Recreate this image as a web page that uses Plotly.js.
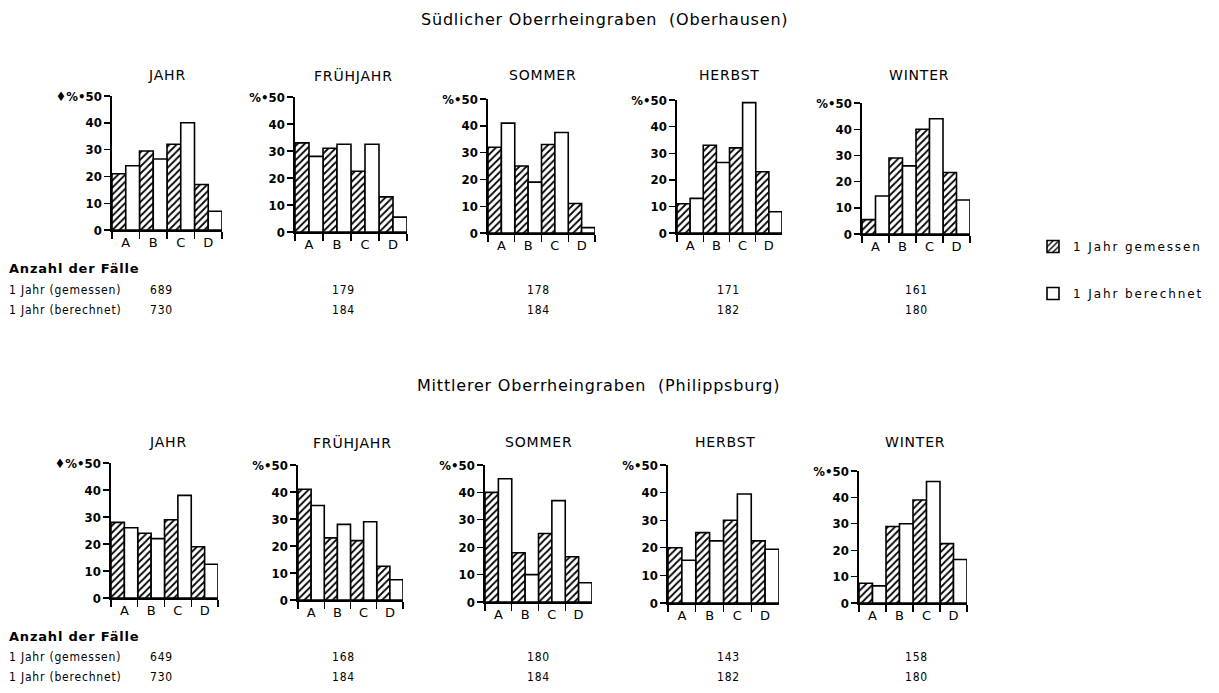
<!DOCTYPE html>
<html><head><meta charset="utf-8">
<script src="https://cdn.plot.ly/plotly-3.0.1.min.js"></script>
<style>
html,body{margin:0;padding:0;background:#fff}
.legendtext{letter-spacing:1.9px}
.annotation-text{letter-spacing:0.8px}
</style>
</head><body><div id="chart" style="width:1219px;height:693px"></div>
<script>
// ---- data ----
const categories = ['A','B','C','D'];
const seasons = ['JAHR','FRÜHJAHR','SOMMER','HERBST','WINTER'];
const seriesNames = ['1 Jahr gemessen','1 Jahr berechnet'];
const regionTitles = ['Südlicher Oberrheingraben  (Oberhausen)','Mittlerer Oberrheingraben  (Philippsburg)'];
const oberhausenGemessen  = [[21,29.5,32,17],[33,31,22.5,13],[32,25,33,11],[11,33,32,23],[5.5,29,40,23.5]];
const oberhausenBerechnet = [[24,26.5,40,7],[28,32.5,32.5,5.5],[41,19,37.5,2],[13,26.5,49,8],[14.5,26,44,13]];
const philippsburgGemessen  = [[28,24,29,19],[41,23,22,12.5],[40,18,25,16.5],[20,25.5,30,22.5],[7.5,29,39,22.5]];
const philippsburgBerechnet = [[26,22,38,12.5],[35,28,29,7.5],[45,10,37,7],[15.5,22.5,39.5,19.5],[6.5,30,46,16.5]];
const faelleOberhausenGemessen  = [689,179,178,171,161];
const faelleOberhausenBerechnet = [730,184,184,182,180];
const faellePhilippsburgGemessen  = [649,168,180,143,158];
const faellePhilippsburgBerechnet = [730,184,184,182,180];
const tableLabels = ['Anzahl der Fälle','1 Jahr (gemessen)','1 Jahr (berechnet)'];
const yTickVals = [0,10,20,30,40,50];
const yTickText = ['0','10','20','30','40','%•50'];
const yTickTextFirst = ['0','10','20','30','40','♦%•50'];

// ---- layout geometry (pixels) ----
const W = 1219, H = 693;
const FONT = 'DejaVu Sans, sans-serif';
const FONT_C = 'DejaVu Sans Condensed, DejaVu Sans, sans-serif';
const boxes = [
  [[112,222,96,230],[295,407,97,232],[488,595,99,233],[677,782,100,233],[862,970,103,234]],
  [[111,218,463,598],[298,403,465,600],[485,592,465,602],[668,779,465,603],[859,967,471,603]]
];
const titleX = [[167,354,542,729,919],[168,352,538,725,915]];
const titleY = [75,442];
const regionX = [604,598];
const regionY = [20,385];
const numX = [161,343,538,728,916];
const tableY = [[268,290,310],[636,657,677]];

const gem = [oberhausenGemessen, philippsburgGemessen];
const ber = [oberhausenBerechnet, philippsburgBerechnet];
const fGem = [faelleOberhausenGemessen, faellePhilippsburgGemessen];
const fBer = [faelleOberhausenBerechnet, faellePhilippsburgBerechnet];

const px = x => x / W;
const py = y => 1 - y / H;

const traces = [];
const layout = {
  width: W, height: H,
  margin: {l:0,r:0,t:0,b:0},
  paper_bgcolor: '#fff', plot_bgcolor: '#fff',
  barmode: 'group', bargap: 0, bargroupgap: 0,
  font: {family: FONT, color: '#000', size: 12},
  showlegend: true,
  legend: {x: px(1033), y: py(232), xanchor: 'left', yanchor: 'top',
           traceorder: 'grouped', tracegroupgap: 28,
           font: {family: FONT, size: 12, color: '#000'}, bgcolor: 'rgba(0,0,0,0)'},
  annotations: []
};

let k = 0;
for (let r = 0; r < 2; r++) {
  layout.annotations.push({xref:'paper', yref:'paper', x: px(regionX[r]), y: py(regionY[r]),
    text: regionTitles[r], showarrow:false, xanchor:'center', yanchor:'middle',
    font:{family:FONT, size:16, color:'#000'}});
  for (let s = 0; s < 5; s++) {
    k++;
    const xa = k === 1 ? 'x' : 'x' + k;
    const ya = k === 1 ? 'y' : 'y' + k;
    const b = boxes[r][s];
    layout[k === 1 ? 'xaxis' : 'xaxis' + k] = {
      domain: [px(b[0]), px(b[1])], anchor: ya, type: 'category',
      categoryorder: 'array', categoryarray: categories, range: [-0.5, 3.5],
      showline: true, linecolor: '#000', linewidth: 1.6, mirror: false,
      ticks: 'outside', tickson: 'boundaries', ticklen: 7, tickwidth: 1.4, tickcolor: '#000',
      showgrid: false, zeroline: false, fixedrange: true,
      tickfont: {family: FONT, size: 13, color: '#000'}
    };
    layout[k === 1 ? 'yaxis' : 'yaxis' + k] = {
      domain: [py(b[3]), py(b[2])], anchor: xa, range: [0, 50],
      tickmode: 'array', tickvals: yTickVals, ticktext: s === 0 ? yTickTextFirst : yTickText,
      showline: true, linecolor: '#000', linewidth: 1.6,
      ticks: 'outside', ticklen: 6, tickwidth: 1.4, tickcolor: '#000',
      showgrid: false, zeroline: false, fixedrange: true,
      tickfont: {family: FONT_C, size: 13, color: '#000', weight: 'bold'}
    };
    traces.push({
      type: 'bar', x: categories, y: gem[r][s], xaxis: xa, yaxis: ya,
      name: seriesNames[0], legendgroup: 'g', showlegend: k === 1,
      marker: {color: '#fff', line: {color: '#000', width: 1.6},
               pattern: {shape: '/', fgcolor: '#000', bgcolor: '#fff', size: 5, solidity: 0.35}},
      hoverinfo: 'skip'
    });
    traces.push({
      type: 'bar', x: categories, y: ber[r][s], xaxis: xa, yaxis: ya,
      name: seriesNames[1], legendgroup: 'b', showlegend: k === 1,
      marker: {color: '#fff', line: {color: '#000', width: 1.6}},
      hoverinfo: 'skip'
    });
    layout.annotations.push({xref:'paper', yref:'paper', x: px(titleX[r][s]), y: py(titleY[r]),
      text: seasons[s], showarrow:false, xanchor:'center', yanchor:'middle',
      font:{family:FONT, size:14, color:'#000'}});
    layout.annotations.push({xref:'paper', yref:'paper', x: px(numX[s]), y: py(tableY[r][1]),
      text: String(fGem[r][s]), showarrow:false, xanchor:'center', yanchor:'middle',
      font:{family:FONT_C, size:12, color:'#000'}});
    layout.annotations.push({xref:'paper', yref:'paper', x: px(numX[s]), y: py(tableY[r][2]),
      text: String(fBer[r][s]), showarrow:false, xanchor:'center', yanchor:'middle',
      font:{family:FONT_C, size:12, color:'#000'}});
  }
  for (let t = 0; t < 3; t++) {
    layout.annotations.push({xref:'paper', yref:'paper', x: px(7), y: py(tableY[r][t]),
      text: tableLabels[t], showarrow:false, xanchor:'left', yanchor:'middle',
      font: t === 0 ? {family: FONT, size: 13, color: '#000', weight: 'bold'}
                    : {family: FONT_C, size: 12, color: '#000'}});
  }
}

Plotly.newPlot('chart', traces, layout, {staticPlot: true, displayModeBar: false});
</script>
</body></html>
